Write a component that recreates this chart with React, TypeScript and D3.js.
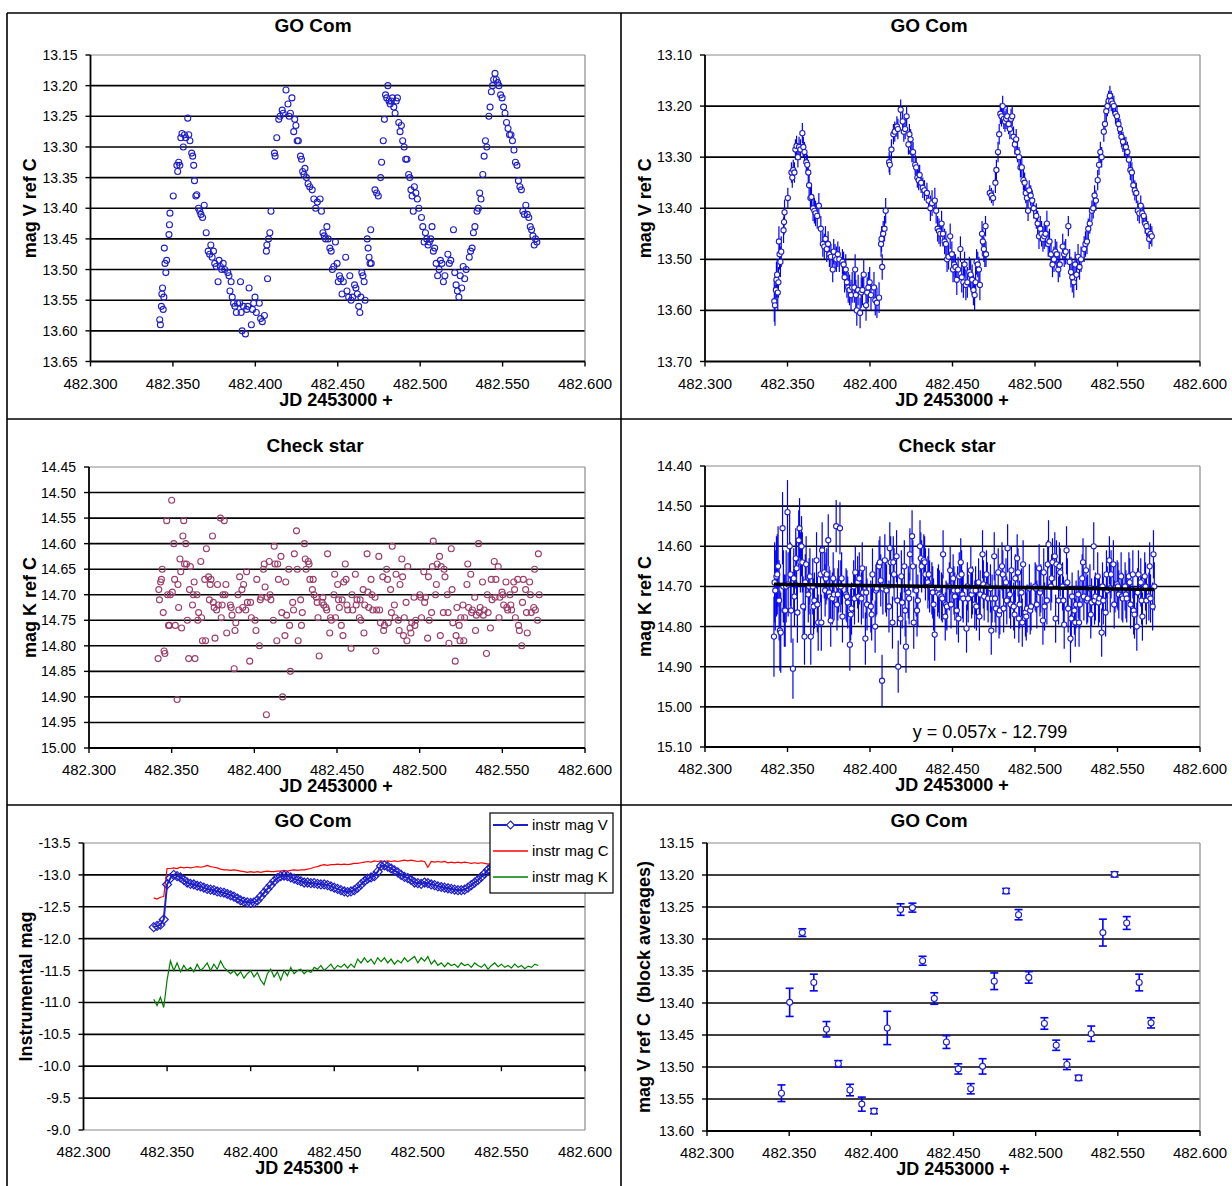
import * as d3 from 'd3';

const FONT = '"Liberation Sans", Arial, Helvetica, sans-serif';
const BLUE = '#1f1fc8';
const ERR_BLUE = '#0000ff';
const PLUM = '#9c3c68';

// x axis: JD 2453000 +
const jdTicks = [482.3, 482.35, 482.4, 482.45, 482.5, 482.55, 482.6];

// y tick labels of each panel
const ticksV1 = [13.15, 13.2, 13.25, 13.3, 13.35, 13.4, 13.45, 13.5, 13.55, 13.6, 13.65];
const ticksV2 = [13.1, 13.2, 13.3, 13.4, 13.5, 13.6, 13.7];
const ticksK1 = [14.45, 14.5, 14.55, 14.6, 14.65, 14.7, 14.75, 14.8, 14.85, 14.9, 14.95, 15.0];
const ticksK2 = [14.4, 14.5, 14.6, 14.7, 14.8, 14.9, 15.0, 15.1];
const ticksInstr = [-13.5, -13, -12.5, -12, -11.5, -11, -10.5, -10, -9.5, -9];
const ticksBlock = [13.15, 13.2, 13.25, 13.3, 13.35, 13.4, 13.45, 13.5, 13.55, 13.6];

// GO Com, mag V ref C: [t, mag, err], t = (JD - 2453482) in thousandths of a day
const goComV: [number, number, number][] = [
  [342.0,13.582,.04],[342.4,13.590,.04],[343.0,13.560,.035],[343.3,13.540,.035],[343.7,13.530,.03],[344.1,13.565,.035],[344.5,13.545,.03],[344.8,13.465,.03],[345.2,13.490,.03],[345.7,13.505,.03],[346.2,13.485,.03],[347.6,13.443,.025],[347.9,13.427,.025],[348.2,13.408,.025],[350.2,13.380,.02],
  [352.4,13.330,.02],[352.9,13.340,.02],[353.5,13.325,.02],[354.2,13.330,.02],[354.8,13.285,.02],[355.5,13.278,.02],[356.3,13.300,.02],[357.0,13.280,.02],[357.8,13.285,.02],[359.0,13.253,.02],[359.6,13.280,.02],[360.3,13.290,.02],
  [361.4,13.310,.02],[362.0,13.315,.02],[362.6,13.330,.02],[363.1,13.355,.02],[363.9,13.380,.02],[364.5,13.378,.02],[365.5,13.400,.025],[366.3,13.405,.025],[367.0,13.410,.025],[368.0,13.415,.025],[369.0,13.395,.025],[370.2,13.440,.025],
  [371.4,13.470,.025],[372.3,13.475,.025],[373.0,13.460,.025],[373.8,13.480,.025],[374.6,13.470,.025],[375.4,13.490,.025],[376.3,13.495,.025],[377.4,13.520,.025],[378.0,13.485,.025],[378.8,13.495,.025],[379.6,13.500,.025],[380.5,13.490,.025],[381.4,13.500,.025],
  [383.3,13.505,.025],[384.0,13.510,.025],[384.6,13.535,.03],[385.3,13.520,.03],[386.0,13.545,.03],[386.8,13.555,.03],[387.6,13.560,.03],[388.5,13.570,.03],[389.2,13.555,.03],[390.5,13.555,.03],[391.0,13.520,.03],[391.4,13.570,.03],[392.0,13.600,.03],[392.8,13.560,.03],
  [394.0,13.605,.03],[394.7,13.565,.03],[395.4,13.560,.03],[396.2,13.530,.03],[397.6,13.590,.03],[398.3,13.565,.03],[399.0,13.555,.03],[399.8,13.545,.03],[400.6,13.570,.03],[402.4,13.555,.03],[403.2,13.580,.03],[404.2,13.585,.03],[405.5,13.575,.03],
  [406.7,13.470,.025],[407.0,13.460,.025],[407.4,13.515,.025],[408.0,13.450,.025],[408.8,13.440,.025],[409.5,13.405,.025],
  [411.6,13.310,.02],[412.0,13.315,.02],[413.0,13.285,.02],[414.2,13.255,.02],[415.0,13.250,.02],[416.3,13.240,.02],[416.9,13.245,.02],[418.6,13.207,.02],[419.8,13.230,.02],[420.5,13.250,.02],[421.3,13.245,.02],[422.2,13.220,.02],
  [423.3,13.275,.02],[423.9,13.255,.02],[424.6,13.265,.02],[425.4,13.290,.02],[426.1,13.290,.02],[427.4,13.315,.02],[428.0,13.320,.02],[428.7,13.340,.02],[429.5,13.345,.02],[430.1,13.335,.02],[431.0,13.350,.02],[432.0,13.360,.02],[433.0,13.365,.02],
  [434.5,13.370,.02],[435.5,13.385,.02],[436.6,13.400,.025],[437.6,13.390,.025],[439.3,13.385,.025],[440.1,13.405,.025],[441.0,13.440,.025],[441.8,13.445,.025],[442.6,13.450,.025],[443.4,13.430,.025],[444.2,13.450,.025],[445.2,13.465,.025],[446.0,13.470,.025],
  [446.7,13.500,.025],[447.6,13.495,.025],[448.6,13.455,.025],[449.6,13.490,.025],[450.3,13.520,.025],[451.0,13.510,.025],[451.8,13.515,.025],[452.6,13.540,.03],[453.4,13.520,.025],[454.8,13.480,.025],[455.6,13.535,.03],[456.6,13.545,.03],
  [457.3,13.510,.025],[458.1,13.550,.03],[459.0,13.545,.03],[460.2,13.525,.03],[461.0,13.530,.03],[461.9,13.540,.03],[462.7,13.560,.03],[463.4,13.570,.03],[464.0,13.545,.03],[464.6,13.505,.025],[465.3,13.510,.025],[466.0,13.520,.025],[466.6,13.550,.03],
  [467.9,13.450,.025],[468.4,13.465,.025],[469.0,13.480,.025],[469.6,13.490,.025],[470.0,13.435,.02],[470.3,13.490,.025],
  [472.6,13.370,.015],[473.6,13.375,.015],[474.6,13.380,.015],[476.0,13.350,.02],[476.6,13.325,.02],[477.6,13.290,.02],[478.3,13.255,.02],[479.0,13.215,.02],[479.7,13.220,.02],[480.4,13.200,.02],[481.1,13.225,.02],[481.8,13.230,.02],
  [482.5,13.225,.02],[483.2,13.220,.02],[484.0,13.235,.02],[484.8,13.245,.02],[485.5,13.225,.02],[486.2,13.220,.02],[487.0,13.260,.02],[487.8,13.275,.02],[488.6,13.265,.02],[489.4,13.290,.02],[490.3,13.300,.02],[491.2,13.320,.02],[492.0,13.320,.02],
  [493.0,13.345,.02],[493.7,13.350,.02],[494.4,13.370,.02],[495.1,13.380,.02],[495.8,13.405,.02],[496.5,13.365,.02],[497.4,13.375,.02],[498.3,13.385,.02],[499.2,13.400,.02],
  [500.8,13.415,.025],[501.6,13.430,.025],[502.4,13.455,.025],[503.2,13.440,.025],[504.0,13.450,.025],[504.8,13.460,.025],[505.6,13.455,.025],[506.4,13.450,.025],[507.2,13.430,.025],[508.0,13.470,.025],[508.8,13.465,.025],[509.7,13.490,.025],[510.6,13.510,.025],[511.5,13.500,.025],
  [512.3,13.485,.025],[513.2,13.490,.025],[514.1,13.520,.025],[515.0,13.510,.025],[516.8,13.475,.025],[517.7,13.490,.025],[518.6,13.485,.025],[520.2,13.435,.02],[521.0,13.505,.025],[521.8,13.525,.03],[522.6,13.535,.03],[523.5,13.545,.03],[524.3,13.510,.025],
  [525.2,13.530,.03],[526.1,13.495,.025],[527.0,13.515,.025],[527.9,13.500,.025],[529.8,13.480,.025],[530.6,13.470,.025],[531.5,13.465,.025],[532.3,13.440,.02],[533.2,13.430,.02],[534.5,13.405,.02],[535.3,13.400,.02],[536.1,13.375,.02],[536.9,13.385,.02],
  [538.0,13.345,.02],[538.8,13.315,.02],[539.6,13.290,.02],[540.4,13.300,.02],[541.7,13.250,.02],[542.4,13.235,.02],[543.2,13.210,.02],[543.9,13.200,.02],[544.6,13.190,.02],[545.4,13.180,.02],[546.2,13.190,.02],[547.0,13.195,.02],[547.8,13.200,.02],
  [548.8,13.215,.02],[549.7,13.220,.02],[550.6,13.235,.02],[551.5,13.245,.02],[552.4,13.260,.02],[553.3,13.270,.02],[554.2,13.280,.02],[555.1,13.280,.02],[556.0,13.290,.02],[556.9,13.305,.02],[557.8,13.325,.02],[558.7,13.330,.02],
  [559.6,13.355,.02],[560.5,13.365,.02],[561.4,13.370,.02],[562.3,13.405,.02],[563.2,13.410,.02],[564.1,13.395,.02],[565.0,13.410,.02],[565.9,13.415,.02],[566.8,13.430,.02],[567.6,13.435,.02],[568.4,13.445,.02],[569.2,13.460,.02],[570.0,13.450,.02],[570.8,13.455,.02],
];

// Check star, mag K ref C: [t, mag, err]
const checkK: [number, number, number][] = [
  [341.8,14.825,.1],[342.2,14.69,.1],[342.6,14.71,.1],[343.3,14.675,.1],[343.8,14.67,.1],[344.3,14.65,.1],[344.9,14.735,.1],[345.4,14.81,.1],[345.9,14.815,.1],
  [347.0,14.555,.09],[347.5,14.70,.09],[348.1,14.76,.09],[348.6,14.76,.09],[349.2,14.70,.09],[350.0,14.515,.08],[350.4,14.695,.08],[351.3,14.60,.08],[351.8,14.67,.08],[352.2,14.76,.08],
  [353.3,14.905,.075],[353.8,14.68,.075],[354.2,14.725,.075],[355.0,14.63,.075],[355.5,14.655,.075],[356.0,14.765,.075],[356.8,14.585,.075],[357.3,14.555,.075],[357.8,14.64,.075],
  [358.5,14.60,.075],[359.0,14.64,.075],[359.5,14.75,.075],[360.3,14.825,.07],[360.8,14.69,.07],[361.3,14.645,.07],[362.6,14.72,.07],[363.1,14.70,.07],[363.6,14.675,.07],[364.1,14.825,.07],
  [365.3,14.70,.07],[365.8,14.75,.07],[366.3,14.735,.07],[367.6,14.635,.07],[368.1,14.745,.07],[368.6,14.79,.07],[370.0,14.67,.07],[370.5,14.79,.07],[371.0,14.61,.07],
  [372.3,14.665,.065],[372.8,14.71,.065],[373.3,14.68,.065],[373.8,14.67,.065],[374.7,14.585,.065],[375.2,14.715,.065],[375.7,14.725,.065],[376.2,14.785,.065],
  [377.2,14.73,.065],[377.7,14.68,.065],[378.2,14.72,.065],[379.5,14.55,.065],[380.0,14.745,.065],[380.5,14.72,.065],[381.0,14.70,.065],[381.8,14.555,.065],[382.3,14.70,.065],[382.8,14.68,.065],[383.3,14.775,.065],
  [385.5,14.72,.065],[386.0,14.725,.065],[386.5,14.74,.065],[387.8,14.845,.065],[388.3,14.77,.065],[388.8,14.755,.065],[390.1,14.70,.065],[390.6,14.73,.065],[391.1,14.665,.065],
  [392.5,14.69,.065],[393.0,14.725,.065],[393.5,14.68,.065],[394.8,14.73,.065],[395.3,14.655,.065],[395.8,14.715,.065],[397.2,14.83,.065],[397.7,14.715,.065],[398.2,14.745,.065],
  [400.5,14.75,.065],[401.0,14.77,.065],[401.5,14.67,.065],[403.1,14.80,.065],[403.6,14.71,.065],[404.1,14.705,.065],[405.5,14.65,.065],[406.0,14.64,.065],[406.5,14.685,.065],
  [407.3,14.935,.065],[407.8,14.705,.065],[409.0,14.635,.065],[409.5,14.70,.065],[410.0,14.71,.065],[411.5,14.75,.065],[412.0,14.605,.065],[412.5,14.64,.065],
  [413.6,14.79,.065],[414.1,14.64,.065],[414.6,14.67,.065],[416.1,14.625,.065],[416.6,14.735,.065],[417.1,14.90,.065],[418.5,14.78,.065],[419.0,14.675,.065],[419.5,14.74,.065],
  [420.8,14.65,.065],[421.3,14.76,.065],[421.8,14.85,.065],[423.2,14.715,.065],[423.7,14.73,.065],[424.2,14.62,.065],[425.5,14.575,.065],[426.0,14.65,.065],[426.5,14.79,.065],
  [428.0,14.71,.065],[428.5,14.76,.065],[429.0,14.735,.065],[430.3,14.60,.065],[430.8,14.63,.065],[431.3,14.65,.065],[432.6,14.635,.065],[433.1,14.64,.065],[433.6,14.67,.065],
  [435.1,14.69,.065],[435.6,14.67,.065],[436.1,14.70,.065],[437.5,14.705,.065],[438.0,14.715,.065],[438.5,14.745,.065],[439.2,14.82,.065],
  [441.0,14.715,.06],[441.5,14.705,.06],[442.0,14.72,.06],[443.3,14.725,.06],[443.8,14.73,.06],[444.3,14.62,.06],[445.6,14.775,.06],[446.1,14.745,.06],[446.6,14.75,.06],
  [448.1,14.70,.06],[448.6,14.66,.06],[449.1,14.745,.06],[450.4,14.68,.06],[450.9,14.71,.06],[451.4,14.725,.06],[452.6,14.76,.06],[453.1,14.71,.06],[453.6,14.78,.06],[454.1,14.675,.06],
  [455.0,14.64,.06],[455.5,14.67,.06],[456.0,14.72,.06],[456.5,14.73,.06],[458.5,14.805,.06],[459.0,14.70,.06],[459.5,14.73,.06],[461.1,14.66,.06],[461.6,14.72,.06],[462.1,14.71,.06],
  [463.5,14.745,.06],[464.0,14.71,.06],[464.5,14.75,.06],[465.8,14.69,.06],[466.3,14.775,.06],[466.8,14.72,.06],[468.2,14.62,.06],[468.7,14.695,.06],[469.2,14.725,.06],
  [470.6,14.67,.06],[471.1,14.70,.06],[471.6,14.73,.06],[473.0,14.705,.06],[473.5,14.81,.06],[474.0,14.73,.06],[475.3,14.625,.06],[475.8,14.73,.06],[476.3,14.755,.06],
  [477.7,14.665,.06],[478.2,14.77,.06],[478.7,14.76,.06],[480.0,14.65,.06],[480.5,14.67,.06],[481.0,14.755,.06],[482.4,14.69,.06],[482.9,14.735,.06],[483.4,14.605,.06],
  [484.7,14.72,.06],[485.2,14.745,.06],[485.7,14.66,.06],[487.1,14.75,.06],[487.6,14.77,.06],[488.1,14.68,.06],[489.2,14.63,.06],[489.7,14.665,.06],[490.2,14.78,.06],[490.7,14.745,.06],
  [491.8,14.715,.06],[492.3,14.79,.06],[492.8,14.645,.06],[494.2,14.765,.06],[494.7,14.775,.06],[495.2,14.755,.06],[496.6,14.705,.06],[497.1,14.76,.06],[497.6,14.75,.06],
  [500.1,14.70,.06],[500.6,14.705,.06],[501.1,14.745,.06],[502.5,14.655,.06],[503.0,14.715,.06],[503.5,14.705,.06],[504.8,14.785,.06],[505.3,14.665,.06],[505.8,14.75,.06],
  [507.2,14.735,.06],[507.7,14.645,.06],[508.2,14.595,.06],[509.6,14.70,.06],[510.1,14.68,.06],[510.6,14.64,.06],[512.0,14.625,.06],[512.5,14.78,.06],[513.0,14.645,.06],
  [514.3,14.735,.06],[514.8,14.65,.06],[515.3,14.665,.06],[516.7,14.70,.06],[517.2,14.735,.06],[517.7,14.795,.06],[519.1,14.61,.06],[519.6,14.69,.06],[520.1,14.755,.06],
  [521.5,14.83,.06],[522.0,14.78,.06],[522.5,14.725,.06],[523.9,14.76,.06],[524.4,14.79,.06],[524.9,14.745,.06],[526.2,14.72,.06],[526.7,14.79,.06],[527.2,14.745,.06],
  [528.6,14.68,.06],[529.1,14.64,.06],[529.6,14.725,.06],[530.9,14.66,.06],[531.4,14.735,.06],[531.9,14.73,.06],[533.3,14.705,.06],[533.8,14.77,.06],[534.3,14.74,.06],
  [535.6,14.60,.06],[536.1,14.735,.06],[536.6,14.725,.06],[538.0,14.675,.06],[538.5,14.74,.06],[539.0,14.73,.06],[540.4,14.815,.06],[540.9,14.70,.06],[541.4,14.735,.06],
  [542.8,14.765,.06],[543.3,14.67,.06],[543.8,14.71,.06],[545.1,14.635,.06],[545.6,14.705,.06],[546.1,14.67,.06],[547.5,14.645,.06],[548.0,14.745,.06],[548.5,14.705,.06],
  [549.8,14.695,.06],[550.3,14.70,.06],[550.8,14.72,.06],[552.2,14.675,.06],[552.7,14.725,.06],[553.2,14.73,.06],[554.6,14.70,.06],[555.1,14.72,.06],[555.6,14.73,.06],
  [556.9,14.675,.06],[557.4,14.69,.06],[557.9,14.745,.06],[559.3,14.67,.06],[559.8,14.76,.06],[560.3,14.77,.06],[561.7,14.80,.06],[562.2,14.715,.06],[562.7,14.67,.06],
  [564.1,14.69,.06],[564.6,14.735,.06],[565.1,14.775,.06],[566.5,14.675,.06],[567.0,14.70,.06],[567.5,14.735,.06],[569.0,14.725,.06],[569.5,14.65,.06],[570.0,14.73,.06],
  [571.3,14.75,.06],[571.8,14.62,.06],[572.3,14.70,.06],
];

// linear trend shown on the check star chart
const trendSlope = 0.057;
const trendIntercept = -12.799;

// instrumental magnitudes, sampled times (thousandths of a day after JD 2453482)
const instrT = [342,344,346,348,350,352,354,356,358,360,362,364,366,368,370,372,374,376,378,380,382,384,386,388,390,392,394,396,398,400,402,404,406,408,410,412,414,416,418,420,422,424,426,428,430,432,434,436,438,440,442,444,446,448,450,452,454,456,458,460,462,464,466,468,470,472,474,476,478,480,482,484,486,488,490,492,494,496,498,500,502,504,506,508,510,512,514,516,518,520,522,524,526,528,530,532,534,536,538,540,542,544,546,548,550,552,554,556,558,560,562,564,566,568,570,572];
const instrV = [-12.18,-12.2,-12.22,-12.3,-12.85,-12.95,-13,-12.98,-12.96,-12.92,-12.88,-12.86,-12.85,-12.83,-12.82,-12.8,-12.78,-12.77,-12.76,-12.74,-12.73,-12.72,-12.7,-12.68,-12.66,-12.63,-12.6,-12.58,-12.57,-12.56,-12.57,-12.6,-12.66,-12.72,-12.78,-12.84,-12.9,-12.95,-12.98,-12.99,-12.98,-12.96,-12.94,-12.92,-12.9,-12.88,-12.88,-12.87,-12.87,-12.86,-12.85,-12.85,-12.84,-12.82,-12.8,-12.78,-12.76,-12.74,-12.73,-12.74,-12.76,-12.8,-12.85,-12.9,-12.94,-12.96,-12.98,-13.05,-13.14,-13.15,-13.13,-13.1,-13.07,-13.04,-13,-12.97,-12.95,-12.92,-12.88,-12.87,-12.86,-12.88,-12.87,-12.85,-12.84,-12.82,-12.81,-12.8,-12.79,-12.78,-12.77,-12.76,-12.76,-12.77,-12.8,-12.84,-12.88,-12.92,-12.97,-13.02,-13.08,-13.12,-13.14,-13.13,-13.1,-13.07,-13.04,-13.01,-12.98,-12.95,-12.92,-12.89,-12.87,-12.85,-12.84,-12.83];
const instrC = [-12.64,-12.62,-12.65,-12.66,-13.1,-13.1,-13.11,-13.1,-13.12,-13.11,-13.12,-13.11,-13.12,-13.13,-13.12,-13.13,-13.15,-13.13,-13.12,-13.11,-13.09,-13.08,-13.08,-13.07,-13.08,-13.07,-13.06,-13.05,-13.04,-13.05,-13.04,-13.05,-13.04,-13.05,-13.06,-13.05,-13.05,-13.06,-13.06,-13.07,-13.06,-13.07,-13.08,-13.07,-13.08,-13.08,-13.09,-13.1,-13.12,-13.13,-13.15,-13.16,-13.15,-13.16,-13.16,-13.17,-13.16,-13.17,-13.16,-13.17,-13.18,-13.18,-13.19,-13.2,-13.21,-13.2,-13.22,-13.21,-13.22,-13.21,-13.22,-13.21,-13.22,-13.21,-13.22,-13.23,-13.22,-13.23,-13.22,-13.21,-13.22,-13.21,-13.12,-13.21,-13.2,-13.21,-13.2,-13.21,-13.19,-13.2,-13.19,-13.2,-13.19,-13.2,-13.19,-13.18,-13.19,-13.18,-13.19,-13.18,-13.17,-13.18,-13.17,-13.18,-13.17,-13.16,-13.17,-13.18,-13.17,-13.16,-13.17,-13.18,-13.17,-13.16,-13.17,-13.17];
const instrK = [-11.05,-10.95,-11.08,-10.92,-11.35,-11.65,-11.5,-11.62,-11.48,-11.58,-11.5,-11.55,-11.48,-11.6,-11.5,-11.55,-11.62,-11.5,-11.6,-11.52,-11.65,-11.55,-11.5,-11.45,-11.5,-11.42,-11.48,-11.38,-11.45,-11.5,-11.4,-11.47,-11.35,-11.28,-11.45,-11.52,-11.4,-11.48,-11.35,-11.5,-11.42,-11.55,-11.45,-11.5,-11.52,-11.45,-11.5,-11.47,-11.55,-11.52,-11.58,-11.5,-11.55,-11.6,-11.52,-11.58,-11.55,-11.6,-11.54,-11.6,-11.55,-11.68,-11.62,-11.7,-11.63,-11.68,-11.6,-11.7,-11.64,-11.7,-11.62,-11.68,-11.6,-11.66,-11.62,-11.7,-11.64,-11.68,-11.72,-11.62,-11.7,-11.65,-11.72,-11.6,-11.66,-11.58,-11.62,-11.56,-11.62,-11.58,-11.6,-11.55,-11.62,-11.58,-11.6,-11.55,-11.62,-11.58,-11.55,-11.6,-11.52,-11.58,-11.62,-11.56,-11.6,-11.55,-11.58,-11.54,-11.6,-11.55,-11.58,-11.53,-11.57,-11.55,-11.6,-11.58];

// block averages of V ref C: [t, mag, err]
const blockAvg: [number, number, number][] = [
  [345.3,13.541,.013],[350.3,13.399,.022],[358.0,13.290,.006],[365.0,13.368,.013],[372.7,13.441,.012],[379.9,13.495,.005],[387.0,13.536,.009],[394.2,13.558,.011],
  [401.6,13.569,.004],[409.7,13.439,.026],[417.8,13.254,.009],[425.0,13.251,.007],[431.2,13.334,.007],[438.3,13.393,.009],[445.7,13.461,.010],[452.9,13.503,.008],
  [460.5,13.534,.008],[467.7,13.499,.012],[474.8,13.366,.013],[482.0,13.225,.004],[489.6,13.262,.008],[495.8,13.360,.009],[505.3,13.432,.009],[512.5,13.466,.008],
  [519.0,13.496,.008],[526.1,13.517,.004],[533.8,13.448,.012],[540.9,13.290,.021],[548.0,13.199,.004],[555.4,13.275,.010],[563.0,13.368,.013],[570.2,13.431,.008],
];

const jd = (t: number) => 482 + t / 1000;

type Cfg = {
  x0: number; x1: number; y0: number; y1: number;
  ticks: number[]; digits: number;
  title: string; titleX: number; titleY: number;
  yLabel: string; yLabelX: number;
  xLabel: string; xLabelX: number;
  crossAt?: number;
};

const P1: Cfg = { x0: 90.5, x1: 585, y0: 55, y1: 361.5, ticks: ticksV1, digits: 2, title: 'GO Com', titleX: 313, titleY: 32, yLabel: 'mag V ref C', yLabelX: 36, xLabel: 'JD 2453000 +', xLabelX: 336 };
const P2: Cfg = { x0: 705, x1: 1200, y0: 55, y1: 361.5, ticks: ticksV2, digits: 2, title: 'GO Com', titleX: 929, titleY: 32, yLabel: 'mag V ref C', yLabelX: 651, xLabel: 'JD 2453000 +', xLabelX: 952 };
const P3: Cfg = { x0: 89, x1: 585, y0: 467, y1: 748, ticks: ticksK1, digits: 2, title: 'Check star', titleX: 315, titleY: 452, yLabel: 'mag K ref C', yLabelX: 36, xLabel: 'JD 2453000 +', xLabelX: 336 };
const P4: Cfg = { x0: 705, x1: 1200, y0: 466, y1: 747, ticks: ticksK2, digits: 2, title: 'Check star', titleX: 947, titleY: 452, yLabel: 'mag K ref C', yLabelX: 651, xLabel: 'JD 2453000 +', xLabelX: 952 };
const P5: Cfg = { x0: 83.5, x1: 585, y0: 843, y1: 1130, ticks: ticksInstr, digits: 1, title: 'GO Com', titleX: 313, titleY: 827, yLabel: 'Instrumental mag', yLabelX: 32, xLabel: 'JD 245300 +', xLabelX: 307, crossAt: -10 };
const P6: Cfg = { x0: 707, x1: 1200, y0: 843, y1: 1131, ticks: ticksBlock, digits: 2, title: 'GO Com', titleX: 929, titleY: 827, yLabel: 'mag V ref C  (block averages)', yLabelX: 650, xLabel: 'JD 2453000 +', xLabelX: 953 };

function scales(c: Cfg) {
  const x = d3.scaleLinear().domain([482.3, 482.6]).range([c.x0, c.x1]);
  const y = d3.scaleLinear().domain([c.ticks[0], c.ticks[c.ticks.length - 1]]).range([c.y0, c.y1]);
  return { x, y };
}

function Frame({ c }: { c: Cfg }) {
  const { x, y } = scales(c);
  const last = c.ticks.length - 1;
  const axisY = c.crossAt !== undefined ? y(c.crossAt) : c.y1;
  const midY = (c.y0 + c.y1) / 2;
  return (
    <g fontFamily={FONT} fill="#000">
      {c.ticks.map((t, i) =>
        i === 0 || i === last || t === c.crossAt ? null : (
          <line key={t} x1={c.x0} x2={c.x1} y1={y(t)} y2={y(t)} stroke="#000" strokeWidth={1.6} />
        ))}
      <line x1={c.x0} x2={c.x1} y1={c.y0} y2={c.y0} stroke="#8a8a8a" strokeWidth={1.2} />
      <line x1={c.x1} x2={c.x1} y1={c.y0} y2={c.y1} stroke="#8a8a8a" strokeWidth={1.2} />
      {c.crossAt !== undefined && (
        <line x1={c.x0} x2={c.x1} y1={c.y1} y2={c.y1} stroke="#8a8a8a" strokeWidth={1.2} />
      )}
      <line x1={c.x0} x2={c.x1} y1={axisY} y2={axisY} stroke="#000" strokeWidth={1.8} />
      <line x1={c.x0} x2={c.x0} y1={c.y0} y2={c.y1} stroke="#000" strokeWidth={1.8} />
      {c.ticks.map((t) => (
        <g key={'yt' + t}>
          <line x1={c.x0 - 5} x2={c.x0} y1={y(t)} y2={y(t)} stroke="#000" strokeWidth={1.4} />
          <text x={c.x0 - 13} y={y(t) + 5} textAnchor="end" fontSize={14}>{t.toFixed(c.digits)}</text>
        </g>
      ))}
      {jdTicks.map((t) => (
        <g key={'xt' + t}>
          <line x1={x(t)} x2={x(t)} y1={axisY} y2={axisY + 5} stroke="#000" strokeWidth={1.4} />
          <text x={x(t)} y={c.y1 + 27} textAnchor="middle" fontSize={15}>{t.toFixed(3)}</text>
        </g>
      ))}
      <text x={c.titleX} y={c.titleY} textAnchor="middle" fontSize={19} fontWeight="bold">{c.title}</text>
      <text x={c.xLabelX} y={c.y1 + 44} textAnchor="middle" fontSize={18} fontWeight="bold">{c.xLabel}</text>
      <text transform={`translate(${c.yLabelX},${midY}) rotate(-90)`} textAnchor="middle" fontSize={18}
        fontWeight="bold" style={{ whiteSpace: 'pre' }}>{c.yLabel}</text>
    </g>
  );
}

function Circles({ c, data, color, r = 3, fill = 'none' }: { c: Cfg; data: [number, number, number][]; color: string; r?: number; fill?: string }) {
  const { x, y } = scales(c);
  return (
    <g>
      {data.map((d, i) => (
        <circle key={i} cx={x(jd(d[0]))} cy={y(d[1])} r={r} fill={fill} stroke={color} strokeWidth={1.1} />
      ))}
    </g>
  );
}

function ErrBars({ c, data, cap = 0, width = 1.2 }: { c: Cfg; data: [number, number, number][]; cap?: number; width?: number }) {
  const { x, y } = scales(c);
  return (
    <g stroke={ERR_BLUE} strokeWidth={width}>
      {data.map((d, i) => {
        const cx = x(jd(d[0]));
        const a = y(d[1] - d[2]);
        const b = y(d[1] + d[2]);
        return (
          <g key={i}>
            <line x1={cx} x2={cx} y1={a} y2={b} />
            {cap > 0 && <line x1={cx - cap} x2={cx + cap} y1={a} y2={a} />}
            {cap > 0 && <line x1={cx - cap} x2={cx + cap} y1={b} y2={b} />}
          </g>
        );
      })}
    </g>
  );
}

function InstrPanel() {
  const c = P5;
  const { x, y } = scales(c);
  const pts = (v: number[]) => instrT.map((t, i) => [x(jd(t)), y(v[i])] as [number, number]);
  const line = d3.line();
  const vPts = pts(instrV);
  const legendItems = [
    { label: 'instr mag V', color: BLUE, diamond: true },
    { label: 'instr mag C', color: '#ff0000', diamond: false },
    { label: 'instr mag K', color: '#008000', diamond: false },
  ];
  return (
    <g>
      <path d={line(pts(instrC)) || ''} fill="none" stroke="#ff0000" strokeWidth={1.2} />
      <path d={line(pts(instrK)) || ''} fill="none" stroke="#008000" strokeWidth={1.2} />
      <path d={line(vPts) || ''} fill="none" stroke={BLUE} strokeWidth={2} />
      {vPts.map(([px, py], i) => (
        <path key={i} d={`M${px},${py - 4.5}L${px + 4.5},${py}L${px},${py + 4.5}L${px - 4.5},${py}Z`} fill="none" stroke={BLUE} strokeWidth={1.2} />
      ))}
      <rect x={490} y={813} width={123} height={80} fill="#fff" stroke="#000" strokeWidth={1.2} />
      {legendItems.map((it, i) => {
        const ly = 825 + i * 26;
        return (
          <g key={it.label}>
            <line x1={493} x2={528} y1={ly} y2={ly} stroke={it.color} strokeWidth={it.diamond ? 2 : 1.3} />
            {it.diamond && (
              <path d={`M510.5,${ly - 4}L514.5,${ly}L510.5,${ly + 4}L506.5,${ly}Z`} fill="#fff" stroke={it.color} strokeWidth={1.1} />
            )}
            <text x={532} y={ly + 5} fontSize={15} fontFamily={FONT}>{it.label}</text>
          </g>
        );
      })}
    </g>
  );
}

function TrendLine() {
  const c = P4;
  const { x, y } = scales(c);
  const t0 = jd(checkK[0][0]);
  const t1 = jd(checkK[checkK.length - 1][0]);
  const f = (v: number) => trendSlope * v + trendIntercept;
  return (
    <g>
      <line x1={x(t0)} x2={x(t1)} y1={y(f(t0))} y2={y(f(t1))} stroke="#000" strokeWidth={3.5} />
      <text x={990} y={738} textAnchor="middle" fontSize={18} fontFamily={FONT}>y = 0.057x - 12.799</text>
    </g>
  );
}

export default function App() {
  return (
    <svg width={1232} height={1186} style={{ position: 'absolute', left: 0, top: 0, background: '#fff' }}>
      <rect width={1232} height={1186} fill="#fff" />
      {/* panel borders */}
      <g stroke="#000" strokeWidth={1.6}>
        <line x1={7} x2={1232} y1={13} y2={13} />
        <line x1={7} x2={7} y1={13} y2={1186} />
        <line x1={621} x2={621} y1={13} y2={1186} />
        <line x1={7} x2={1232} y1={419} y2={419} />
        <line x1={7} x2={1232} y1={805} y2={805} />
      </g>

      <Frame c={P1} />
      <Circles c={P1} data={goComV} color={BLUE} r={3} />

      <Frame c={P2} />
      <ErrBars c={P2} data={goComV} />
      <Circles c={P2} data={goComV} color={BLUE} r={2.6} fill="#fff" />

      <Frame c={P3} />
      <Circles c={P3} data={checkK} color={PLUM} r={3} />

      <Frame c={P4} />
      <ErrBars c={P4} data={checkK} />
      <Circles c={P4} data={checkK} color={BLUE} r={2.6} fill="#fff" />
      <TrendLine />

      <Frame c={P5} />
      <InstrPanel />

      <Frame c={P6} />
      <ErrBars c={P6} data={blockAvg} cap={4} width={1.6} />
      <Circles c={P6} data={blockAvg} color={BLUE} r={3} fill="#fff" />
    </svg>
  );
}
